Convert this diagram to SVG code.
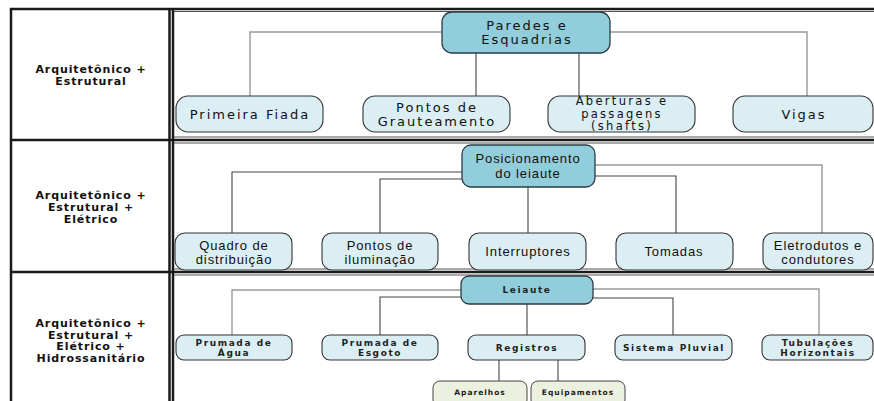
<svg xmlns="http://www.w3.org/2000/svg" width="874" height="401" viewBox="0 0 874 401">
<style>
.bg{fill:#fff}
.thick{stroke:#1a1a1a;stroke-width:2.5;fill:none}
.cell{stroke:#555;stroke-width:1;fill:none}
.main{fill:#92cddc;stroke:#2a3b44;stroke-width:1.3}
.leaf{fill:#dbeef4;stroke:#333;stroke-width:1.1}
.green{fill:#ebf1de;stroke:#444;stroke-width:1}
.conn path{fill:none;stroke:#444;stroke-width:1.1}
.conn path.g{stroke:#999;stroke-width:1.4}
.lbl{font-family:"DejaVu Sans",Verdana,sans-serif;font-weight:bold;font-size:11px;letter-spacing:0.9px;fill:#111;text-anchor:middle}
.t1{font-family:"DejaVu Sans",Verdana,sans-serif;font-size:13px;letter-spacing:2px;fill:#111;text-anchor:middle}
.t1s{font-family:"DejaVu Sans",Verdana,sans-serif;font-size:11.5px;letter-spacing:2.3px;fill:#111;text-anchor:middle}
.t2{font-family:"Liberation Sans",Arial,sans-serif;font-size:13px;letter-spacing:0.9px;fill:#111;text-anchor:middle}
.t3{font-family:"DejaVu Sans",Verdana,sans-serif;font-weight:bold;font-size:9px;letter-spacing:1.6px;fill:#222;text-anchor:middle}
.t4{font-family:"DejaVu Sans",Verdana,sans-serif;font-weight:bold;font-size:7.5px;letter-spacing:1px;fill:#222;text-anchor:middle}
</style>
<rect class="bg" x="0" y="0" width="874" height="401"/>
<g id="table">
<line class="thick" x1="10" y1="9" x2="874" y2="9"/>
<line class="thick" x1="10" y1="140" x2="874" y2="140"/>
<line class="thick" x1="10" y1="272" x2="874" y2="272"/>
<line class="thick" x1="11" y1="8" x2="11" y2="401"/>
<line class="thick" x1="169.5" y1="8" x2="169.5" y2="401"/>
<line class="thick" x1="173" y1="8" x2="173" y2="401"/>
<line class="cell" x1="174" y1="11.5" x2="874" y2="11.5"/>
<line class="cell" x1="174" y1="137" x2="874" y2="137"/>
<line class="cell" x1="174" y1="143" x2="874" y2="143"/>
<line class="cell" x1="174" y1="269" x2="874" y2="269"/>
<line class="cell" x1="174" y1="275" x2="874" y2="275"/>
</g>
<g id="row-labels">
<text class="lbl" x="91" y="73">Arquitetônico +</text>
<text class="lbl" x="91" y="85">Estrutural</text>
<text class="lbl" x="91" y="199">Arquitetônico +</text>
<text class="lbl" x="91" y="211">Estrutural +</text>
<text class="lbl" x="91" y="223">Elétrico</text>
<text class="lbl" x="91" y="327">Arquitetônico +</text>
<text class="lbl" x="91" y="338.5">Estrutural +</text>
<text class="lbl" x="91" y="350">Elétrico +</text>
<text class="lbl" x="91" y="361.5">Hidrossanitário</text>
</g>
<g id="connectors" class="conn">
<path class="g" d="M442,32 H250 V96"/>
<path class="g" d="M610,32 H807 V96"/>
<path d="M476,53 V96"/>
<path d="M579,53 V96"/>
<path d="M462,172 H232 V233"/>
<path d="M462,179 H380 V233"/>
<path d="M528,187 V233"/>
<path d="M595,176 H676 V233"/>
<path class="g" d="M595,165 H822 V233"/>
<path class="g" d="M461,290 H232 V335"/>
<path d="M461,297 H380 V335"/>
<path d="M527,304 V335"/>
<path d="M593,298 H673 V335"/>
<path class="g" d="M593,289 H819 V335"/>
<path d="M499,360 V381"/>
<path d="M558,360 V381"/>
</g>
<g id="paredes">
<rect class="main" x="442" y="12" width="168" height="41" rx="10"/>
<text class="t1" x="527" y="30">Paredes e</text>
<text class="t1" x="527" y="44">Esquadrias</text>
</g>
<g id="primeira-fiada">
<rect class="leaf" x="176" y="96" width="147" height="36" rx="12"/>
<text class="t1" x="250" y="119">Primeira Fiada</text>
</g>
<g id="pontos-grauteamento">
<rect class="leaf" x="363" y="96" width="147" height="36" rx="12"/>
<text class="t1" x="437" y="112">Pontos de</text>
<text class="t1" x="437" y="126">Grauteamento</text>
</g>
<g id="aberturas">
<rect class="leaf" x="548" y="96" width="147" height="36" rx="12"/>
<text class="t1s" x="622" y="105">Aberturas e</text>
<text class="t1s" x="622" y="117.5">passagens</text>
<text class="t1s" x="622" y="130">(shafts)</text>
</g>
<g id="vigas">
<rect class="leaf" x="733" y="96" width="140" height="36" rx="12"/>
<text class="t1" x="804" y="119">Vigas</text>
</g>
<g id="posicionamento">
<rect class="main" x="462" y="145" width="133" height="42" rx="9"/>
<text class="t2" x="528" y="163">Posicionamento</text>
<text class="t2" x="528" y="178">do leiaute</text>
</g>
<g id="quadro">
<rect class="leaf" x="175" y="233" width="117" height="37" rx="10"/>
<text class="t2" x="234" y="250">Quadro de</text>
<text class="t2" x="234" y="264">distribuição</text>
</g>
<g id="pontos-iluminacao">
<rect class="leaf" x="322" y="233" width="116" height="37" rx="10"/>
<text class="t2" x="380" y="250">Pontos de</text>
<text class="t2" x="380" y="264">iluminação</text>
</g>
<g id="interruptores">
<rect class="leaf" x="469" y="233" width="117" height="37" rx="10"/>
<text class="t2" x="528" y="256">Interruptores</text>
</g>
<g id="tomadas">
<rect class="leaf" x="616" y="233" width="117" height="37" rx="10"/>
<text class="t2" x="674" y="256">Tomadas</text>
</g>
<g id="eletrodutos">
<rect class="leaf" x="763" y="233" width="110" height="37" rx="10"/>
<text class="t2" x="818" y="250">Eletrodutos e</text>
<text class="t2" x="818" y="264">condutores</text>
</g>
<g id="leiaute">
<rect class="main" x="461" y="276" width="132" height="28" rx="8"/>
<text class="t3" x="527" y="293">Leiaute</text>
</g>
<g id="prumada-agua">
<rect class="leaf" x="176" y="335" width="116" height="25" rx="8"/>
<text class="t3" x="234" y="346">Prumada de</text>
<text class="t3" x="234" y="356">Água</text>
</g>
<g id="prumada-esgoto">
<rect class="leaf" x="322" y="335" width="116" height="25" rx="8"/>
<text class="t3" x="380" y="346">Prumada de</text>
<text class="t3" x="380" y="356">Esgoto</text>
</g>
<g id="registros">
<rect class="leaf" x="468" y="335" width="117" height="25" rx="8"/>
<text class="t3" x="527" y="351">Registros</text>
</g>
<g id="sistema-pluvial">
<rect class="leaf" x="615" y="335" width="117" height="25" rx="8"/>
<text class="t3" x="674" y="351">Sistema Pluvial</text>
</g>
<g id="tubulacoes">
<rect class="leaf" x="762" y="335" width="111" height="25" rx="8"/>
<text class="t3" x="818" y="346">Tubulações</text>
<text class="t3" x="818" y="356">Horizontais</text>
</g>
<g id="aparelhos">
<rect class="green" x="433" y="381" width="94" height="26" rx="7"/>
<text class="t4" x="480" y="395">Aparelhos</text>
</g>
<g id="equipamentos">
<rect class="green" x="531" y="381" width="94" height="26" rx="7"/>
<text class="t4" x="578" y="395">Equipamentos</text>
</g>
</svg>
